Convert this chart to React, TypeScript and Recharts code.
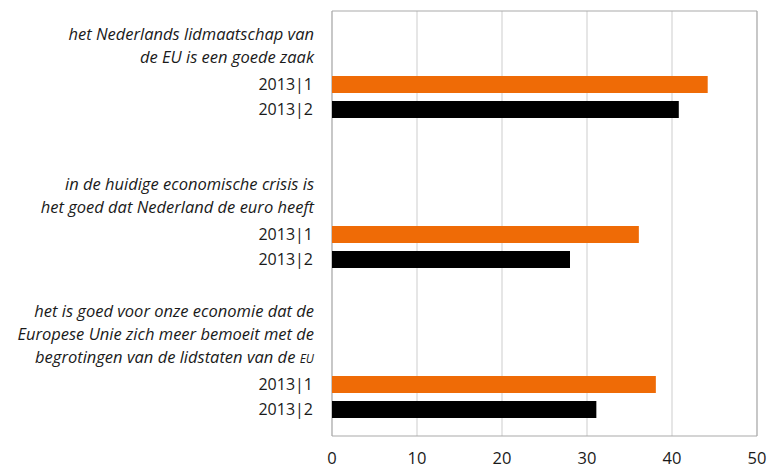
import React from 'react';
import { BarChart, Bar, XAxis, YAxis, CartesianGrid } from 'recharts';

// statements (header lines), survey waves and percentages
const statements = [
  ['het Nederlands lidmaatschap van', 'de EU is een goede zaak'],
  ['in de huidige economische crisis is', 'het goed dat Nederland de euro heeft'],
  [
    'het is goed voor onze economie dat de',
    'Europese Unie zich meer bemoeit met de',
    'begrotingen van de lidstaten van de eu',
  ],
];
const waves = ['2013|1', '2013|2'];
const wave1 = [44.2, 36.1, 38.1];
const wave2 = [40.8, 28.0, 31.1];
const xTicks = [0, 10, 20, 30, 40, 50];

const GAP_ROWS = 4;
const ORANGE = '#ef6b06';
const FONT = '"Open Sans", sans-serif';
const LINE = 22.7;

type Row = { key: string; wave: string; header?: string[]; w1?: number; w2?: number };

const rows: Row[] = [];
statements.forEach((lines, i) => {
  if (i > 0) {
    for (let g = 0; g < GAP_ROWS; g++) rows.push({ key: `gap-${i}-${g}`, wave: '' });
  }
  rows.push({ key: `s${i}-1`, wave: waves[0], header: lines, w1: wave1[i] });
  rows.push({ key: `s${i}-2`, wave: waves[1], w2: wave2[i] });
});

// lowercase "eu" is set in small caps, as in the original
const renderLine = (line: string) =>
  line.split(' ').map((word, k, all) => {
    const sep = k < all.length - 1 ? ' ' : '';
    if (word === 'eu') {
      return (
        <tspan key={k} style={{ fontVariant: 'small-caps' }}>
          {word + sep}
        </tspan>
      );
    }
    return <tspan key={k}>{word + sep}</tspan>;
  });

const CategoryTick = (props: any) => {
  const { x, y, payload } = props;
  const row = rows.find((r) => r.key === payload.value);
  if (!row) return null;
  const n = row.header ? row.header.length : 0;
  return (
    <g>
      {row.header?.map((line, k) => (
        <text
          key={k}
          x={x + 1}
          y={y - 27.5 - LINE * (n - 1 - k)}
          dy="0.35em"
          textAnchor="end"
          fontStyle="italic"
          fontSize={16.5}
          fontFamily={FONT}
          fill="#1a1a1a"
        >
          {renderLine(line)}
        </text>
      ))}
      <text x={x} y={y} dy="0.35em" textAnchor="end" fontSize={16} fontFamily={FONT} fill="#1a1a1a">
        {row.wave}
      </text>
    </g>
  );
};

export default function App() {
  return (
    <div style={{ position: 'absolute', left: 0, top: 0, width: 768, height: 468, background: '#fff' }}>
      <BarChart
        width={768}
        height={468}
        data={rows}
        layout="vertical"
        margin={{ top: 11, right: 11, bottom: 2, left: 0 }}
      >
        <CartesianGrid horizontal={false} stroke="#dedede" strokeWidth={1.5} />
        <CartesianGrid
          stroke="#a9a9a9"
          horizontalCoordinatesGenerator={({ offset }: any) => [offset.top, offset.top + offset.height]}
          verticalCoordinatesGenerator={({ offset }: any) => [offset.left, offset.left + offset.width]}
        />
        <XAxis
          type="number"
          domain={[0, 50]}
          ticks={xTicks}
          axisLine={false}
          tickLine={false}
          tickSize={0}
          tickMargin={16}
          height={30}
          tick={{ fontSize: 16.5, fontFamily: FONT, fill: '#1a1a1a' }}
        />
        <YAxis
          type="category"
          dataKey="key"
          width={332}
          axisLine={false}
          tickLine={false}
          tickSize={0}
          tickMargin={19}
          interval={0}
          padding={{ top: 61, bottom: 14 }}
          tick={<CategoryTick />}
        />
        <Bar dataKey="w1" stackId="a" fill={ORANGE} barSize={17} isAnimationActive={false} />
        <Bar dataKey="w2" stackId="a" fill="#000000" barSize={17} isAnimationActive={false} />
      </BarChart>
    </div>
  );
}
